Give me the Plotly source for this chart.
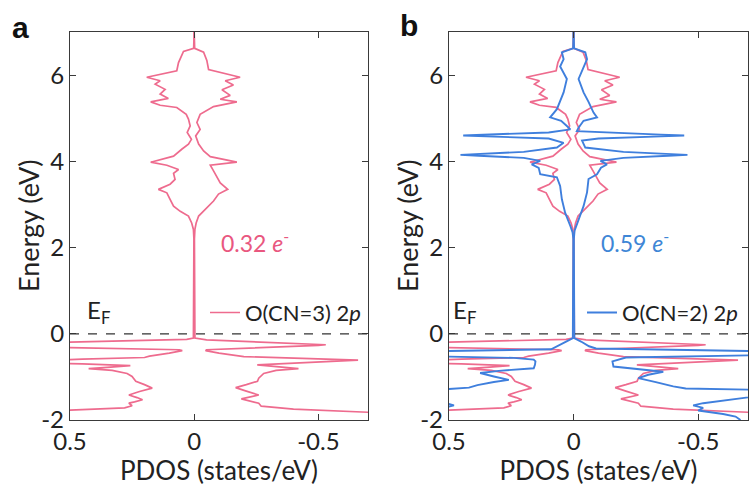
import plotly.graph_objects as go

# ---------------- data ----------------
# O(CN=3) 2p, spin-up (plotted on the positive side)
e_cn3_up = [7.0, 6.62, 6.55, 6.29, 6.10, 6.02, 5.95, 5.87, 5.79, 5.67, 5.56, 5.46, 5.38, 5.30, 5.25,
            5.09, 4.98, 4.82, 4.67, 4.51, 4.40, 4.28, 4.12, 3.98, 3.91, 3.81, 3.72, 3.58, 3.47, 3.35,
            3.27, 3.12, 2.96, 2.84, 2.73, 2.57, 2.42, 2.20, 0.00, -0.10, -0.13, -0.17, -0.25, -0.32,
            -0.37, -0.39, -0.45, -0.52, -0.55, -0.59, -0.65, -0.70, -0.74, -0.78, -0.81, -0.85,
            -0.92, -0.99, -1.10, -1.18, -1.26, -1.34, -1.42, -1.48, -1.53, -1.58, -1.61, -1.67, -1.72,
            -1.77, -1.85, -2.0]
dos_cn3_up = [0.0, 0.002, 0.043, 0.063, 0.070, 0.137, 0.191, 0.137, 0.157, 0.117, 0.137, 0.104, 0.175,
              0.137, 0.070, 0.032, 0.023, 0.016, 0.028, 0.011, 0.023, 0.050, 0.083, 0.175, 0.110, 0.063,
              0.083, 0.077, 0.097, 0.144, 0.110, 0.097, 0.083, 0.056, 0.023, 0.010, 0.003, 0.001, 0.001,
              0.003, 0.030, 0.50, 0.90, 0.50, 0.060, 0.048, 0.10, 0.18, 0.20, 0.45, 0.85, 0.45,
              0.257, 0.35, 0.425, 0.33, 0.27, 0.25, 0.235, 0.20, 0.169, 0.22, 0.263, 0.23, 0.208, 0.24,
              0.263, 0.25, 0.28, 0.50, 0.70, 0.75]
# O(CN=3) 2p, spin-down (negative side)
e_cn3_dn = [7.0, 6.62, 6.53, 6.34, 6.13, 6.05, 5.95, 5.87, 5.77, 5.66, 5.53, 5.44, 5.38, 5.27, 5.09,
            4.90, 4.74, 4.59, 4.40, 4.24, 4.11, 3.98, 3.91, 3.78, 3.66, 3.50, 3.35, 3.24, 3.08, 2.92,
            2.73, 2.57, 2.42, 2.20, 0.00, -0.10, -0.14, -0.24, -0.255, -0.27, -0.37, -0.39, -0.45,
            -0.53, -0.61, -0.72, -0.76, -0.81, -0.85, -0.92, -1.03, -1.10, -1.18,
            -1.25, -1.33, -1.42, -1.51, -1.56, -1.61, -1.68, -1.75, -1.82, -1.90, -2.0]
dos_cn3_dn = [0.0, -0.002, -0.038, -0.051, -0.058, -0.118, -0.185, -0.125, -0.158, -0.112, -0.145,
              -0.105, -0.172, -0.078, -0.024, -0.011, -0.024, -0.006, -0.018, -0.038, -0.065, -0.172,
              -0.065, -0.078, -0.091, -0.105, -0.135, -0.098, -0.078, -0.051, -0.018, -0.008, -0.003,
              -0.001, -0.001, -0.003, -0.05, -0.50, -0.53, -0.50, -0.05, -0.046, -0.10, -0.20,
              -0.66, -0.254, -0.33, -0.42, -0.33, -0.28, -0.26, -0.255, -0.21, -0.167,
              -0.21, -0.26, -0.19, -0.22, -0.26, -0.27, -0.40, -0.70, -0.75, -0.80]
# O(CN=2) 2p, spin-up
e_cn2_up = [7.0, 6.62, 6.53, 6.37, 6.20, 5.91, 5.60, 5.38, 5.21, 5.02, 4.94, 4.82, 4.74, 4.67, 4.62,
            4.60, 4.58, 4.53, 4.43, 4.32, 4.22, 4.17, 4.15, 4.13, 4.08, 4.01, 3.93, 3.85, 3.70, 3.63,
            3.43, 3.12, 2.81, 2.50, 2.35, 2.20, 0.00, -0.10, -0.18, -0.29, -0.36, -0.40, -0.465, -0.53,
            -0.56, -0.60, -0.64, -0.72, -0.80, -0.86, -0.91, -0.99, -1.07, -1.12, -1.19, -1.25, -1.28,
            -1.45, -1.60, -1.66, -1.71, -1.85, -2.0]
dos_cn2_up = [0.0, 0.002, 0.047, 0.040, 0.054, 0.027, 0.040, 0.054, 0.067, 0.094, 0.050, 0.027, 0.013,
              0.10, 0.35, 0.443, 0.35, 0.10, 0.040, 0.067, 0.20, 0.38, 0.454, 0.38, 0.20, 0.134, 0.168,
              0.140, 0.134, 0.067, 0.054, 0.047, 0.034, 0.013, 0.004, 0.001, 0.001, 0.003, 0.030, 0.066,
              0.090, 0.50, 0.90, 0.50, 0.24, 0.16, 0.153, 0.155, 0.16, 0.30, 0.375, 0.32, 0.26, 0.32,
              0.386, 0.42, 0.50, 0.70, 0.52, 0.48, 0.52, 0.70, 0.75]
# O(CN=2) 2p, spin-down
e_cn2_dn = [7.0, 6.62, 6.53, 6.37, 5.91, 5.60, 5.38, 5.13, 5.02, 4.94, 4.78, 4.70, 4.62, 4.60, 4.58,
            4.53, 4.48, 4.32, 4.22, 4.17, 4.15, 4.13, 4.08, 4.01, 3.93, 3.85, 3.70, 3.59, 3.28, 2.96,
            2.66, 2.39, 2.20, 0.00, -0.10, -0.18, -0.29, -0.34, -0.40, -0.45, -0.50, -0.55, -0.64,
            -0.76, -0.82, -0.88, -0.95, -1.03, -1.12, -1.22, -1.27, -1.30, -1.40, -1.46, -1.55, -1.61,
            -1.66, -1.72, -1.78, -1.86, -1.92, -2.0]
dos_cn2_dn = [0.0, -0.002, -0.047, -0.054, -0.020, -0.040, -0.060, -0.080, -0.094, -0.040, -0.020,
              -0.013, -0.35, -0.444, -0.35, -0.10, -0.034, -0.047, -0.20, -0.38, -0.457, -0.38, -0.20,
              -0.108, -0.134, -0.110, -0.094, -0.060, -0.054, -0.040, -0.020, -0.004, -0.001, -0.001,
              -0.003, -0.030, -0.062, -0.090, -0.70, -1.00, -0.70, -0.21, -0.156, -0.16, -0.25, -0.36,
              -0.30, -0.26, -0.33, -0.40, -0.45, -0.75, -0.80, -0.72, -0.60, -0.52, -0.48, -0.52, -0.50,
              -0.60, -0.65, -0.67]

x_ticks = [0.5, 0, -0.5]
x_ticklabels = ["0.5", "0", "-0.5"]
y_ticks = [-2, 0, 2, 4, 6]
y_ticklabels = ["-2", "0", "2", "4", "6"]

PINK = "#EE6B8E"
BLUE = "#3F7FDD"
PINK_TXT = "#E9577F"
BLUE_TXT = "#3E86D6"
FONT = "Lato"
AX = "#3a3a3a"
TXT = "#222"

W, H = 750, 486
fig = go.Figure()

def add_pair(e_up, d_up, e_dn, d_dn, color, width, xa, ya, name, show, legend):
    fig.add_trace(go.Scatter(x=d_up, y=e_up, mode="lines", line=dict(color=color, width=width),
                             xaxis=xa, yaxis=ya, name=name, showlegend=show, legend=legend,
                             legendgroup=name + xa))
    fig.add_trace(go.Scatter(x=d_dn, y=e_dn, mode="lines", line=dict(color=color, width=width),
                             xaxis=xa, yaxis=ya, name=name, showlegend=False, legend=legend,
                             legendgroup=name + xa))

add_pair(e_cn3_up, dos_cn3_up, e_cn3_dn, dos_cn3_dn, PINK, 1.7, "x", "y",
         "O(CN=3) 2<i>p</i>", True, "legend")
add_pair(e_cn3_up, dos_cn3_up, e_cn3_dn, dos_cn3_dn, PINK, 1.7, "x2", "y2",
         "O(CN=3) 2<i>p</i>", False, "legend2")
add_pair(e_cn2_up, dos_cn2_up, e_cn2_dn, dos_cn2_dn, BLUE, 1.9, "x2", "y2",
         "O(CN=2) 2<i>p</i>", True, "legend2")

common_x = dict(range=[0.5, -0.7], tickmode="array", tickvals=x_ticks, ticktext=x_ticklabels,
                ticks="inside", ticklen=6, tickcolor=AX, showline=True, linecolor=AX, linewidth=1.3,
                mirror="ticks", showgrid=False, zeroline=False, automargin=False,
                tickfont=dict(family=FONT, size=24, color=TXT),
                title=dict(text="PDOS (states/eV)", font=dict(family=FONT, size=26, color=TXT),
                           standoff=7))
common_y = dict(range=[-2, 7], tickmode="array", tickvals=y_ticks, ticktext=y_ticklabels,
                ticks="inside", ticklen=6, tickcolor=AX, showline=True, linecolor=AX, linewidth=1.3,
                mirror="ticks", showgrid=False, zeroline=False, automargin=False,
                tickfont=dict(family=FONT, size=24, color=TXT))

ydom = [1 - 420 / H, 1 - 32 / H]
fig.update_layout(
    width=W, height=H, margin=dict(l=0, r=0, t=0, b=0, autoexpand=False),
    paper_bgcolor="white", plot_bgcolor="white",
    xaxis=dict(domain=[70 / W, 368 / W], anchor="y", **common_x),
    yaxis=dict(domain=ydom, anchor="x", **common_y),
    xaxis2=dict(domain=[449 / W, 748 / W], anchor="y2", **common_x),
    yaxis2=dict(domain=ydom, anchor="x2", **common_y),
    legend=dict(x=205 / W, y=1 - 312.7 / H, xanchor="left", yanchor="middle",
                bgcolor="rgba(0,0,0,0)", font=dict(family=FONT, size=22, color=TXT),
                itemwidth=30),
    legend2=dict(x=582 / W, y=1 - 312.7 / H, xanchor="left", yanchor="middle",
                 bgcolor="rgba(0,0,0,0)", font=dict(family=FONT, size=22, color=TXT),
                 itemwidth=30),
    showlegend=True,
)

# Fermi level dashed lines
for xr, yr in [("x", "y"), ("x2", "y2")]:
    fig.add_shape(type="line", xref=xr + " domain", yref=yr, x0=0, x1=1, y0=0, y1=0,
                  line=dict(color="#333", width=1.2, dash="dash"))

ann = []
for xc in (28, 407):
    ann.append(dict(text="Energy (eV)", x=xc / W, y=1 - 226 / H, xref="paper", yref="paper",
                    xanchor="center", yanchor="middle", textangle=-90, showarrow=False,
                    font=dict(family=FONT, size=27, color=TXT)))
ann.append(dict(text="<b>a</b>", x=20 / W, y=1 - 27 / H, xref="paper", yref="paper",
                xanchor="center", yanchor="middle",
                showarrow=False, font=dict(family="Liberation Sans", size=30, color="#111")))
ann.append(dict(text="<b>b</b>", x=409 / W, y=1 - 26 / H, xref="paper", yref="paper",
                xanchor="center", yanchor="middle",
                showarrow=False, font=dict(family="Liberation Sans", size=30, color="#111")))
ann.append(dict(text="0.32 <i>e</i><sup>-</sup>", x=-0.245, y=2.15, xref="x", yref="y",
                showarrow=False, font=dict(family=FONT, size=23, color=PINK_TXT)))
ann.append(dict(text="0.59 <i>e</i><sup>-</sup>", x=-0.245, y=2.15, xref="x2", yref="y2",
                showarrow=False, font=dict(family=FONT, size=23, color=BLUE_TXT)))
ann.append(dict(text="E<sub>F</sub>", x=0.44, y=0.52, xref="x", yref="y", xanchor="left",
                showarrow=False, font=dict(family=FONT, size=24, color=TXT)))
ann.append(dict(text="E<sub>F</sub>", x=0.49, y=0.52, xref="x2", yref="y2", xanchor="left",
                showarrow=False, font=dict(family=FONT, size=24, color=TXT)))
fig.update_layout(annotations=ann)

fig.write_html("out.html")
